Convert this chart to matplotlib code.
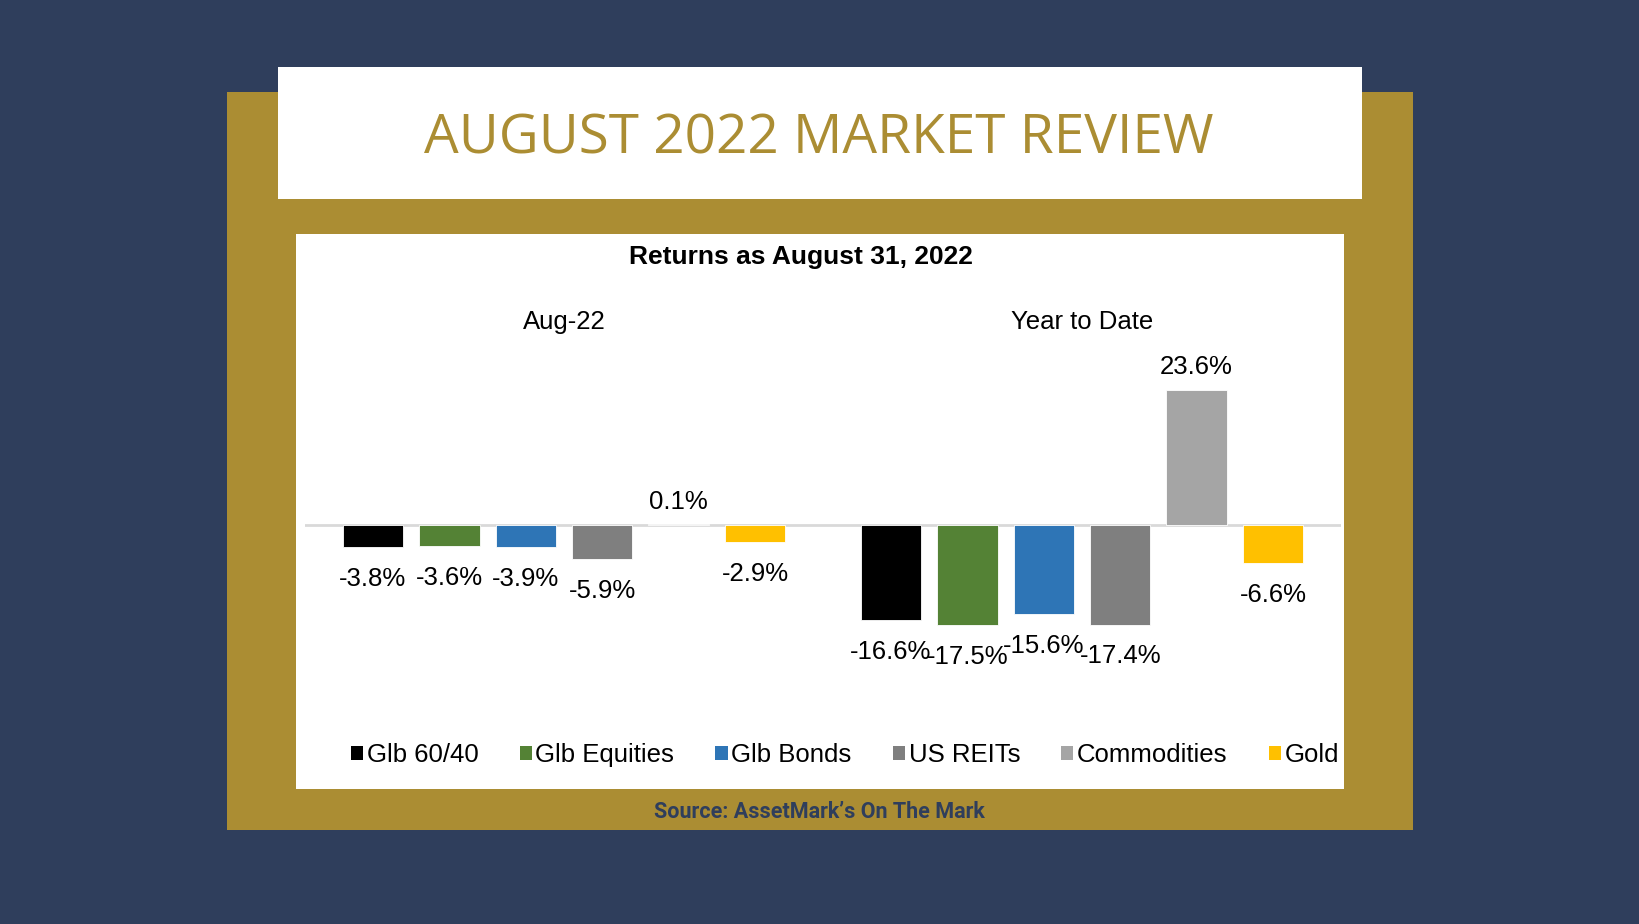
import matplotlib.pyplot as plt
from matplotlib.patches import Rectangle, Patch

# ------------------------------
# DADOS
# ------------------------------
series = ["Glb 60/40", "Glb Equities", "Glb Bonds", "US REITs", "Commodities", "Gold"]
periods = ["Aug-22", "Year to Date"]
aug_22 = [-3.8, -3.6, -3.9, -5.9, 0.1, -2.9]
ytd = [-16.6, -17.5, -15.6, -17.4, 23.6, -6.6]
colors = ["#000000", "#548235", "#2E75B6", "#7F7F7F", "#A5A5A5", "#FFC000"]

NAVY = "#2F3E5C"
GOLD = "#AB8D33"
W, H = 1640, 924


def fx(px):
    return px / W


def fy(py):
    return 1 - py / H


def box(x0, y0, x1, y1, color):
    fig.add_artist(Rectangle((fx(x0), fy(y1)), fx(x1) - fx(x0), fy(y0) - fy(y1),
                             transform=fig.transFigure, facecolor=color,
                             edgecolor="none", zorder=0))


fig = plt.figure(figsize=(W / 100, H / 100), dpi=100)
fig.patch.set_facecolor(NAVY)

# moldura dourada, caixa do titulo e painel do grafico
box(227, 92, 1413, 830, GOLD)
box(278, 67, 1362, 199, "white")
box(296, 234, 1344, 789, "white")

fig.text(fx(819), fy(139), "AUGUST 2022 MARKET REVIEW", ha="center", va="center",
         fontsize=39.5, color=GOLD, family="Open Sans")
fig.text(fx(801), fy(257), "Returns as August 31, 2022", ha="center", va="center",
         fontsize=19, fontweight="bold", family="Liberation Sans", color="black")
fig.text(fx(819), fy(812), "Source: AssetMark\u2019s On The Mark", ha="center", va="center",
         fontsize=15.5, fontweight="bold", family="Roboto", color=NAVY)

# ------------------------------
# GRAFICO DE BARRAS
# ------------------------------
px_per_pct = 5.72
zero_y = 525
top_y, bot_y = 290, 715
ax = fig.add_axes([fx(305), fy(bot_y), fx(1341) - fx(305), fy(top_y) - fy(bot_y)])
ax.set_facecolor("none")
ax.set_xlim(-0.5, 1.5)
ax.set_ylim(-(bot_y - zero_y) / px_per_pct, (zero_y - top_y) / px_per_pct)
ax.axis("off")

pitch = 76.4 / 518
width = 60.5 / 518
values = [aug_22, ytd]
for g, vals in enumerate(values):
    for i, v in enumerate(vals):
        x = g + (i - 2.5) * pitch
        ax.bar(x, v, width=width, color=colors[i], edgecolor="white", linewidth=0.6, zorder=2)
        off = 16.5 if v > 0 else -23
        ax.annotate(f"{v:.1f}%", (x, v), xytext=(0, off), textcoords="offset points",
                    ha="center", va="center", fontsize=18.5, family="Liberation Sans",
                    color="black", zorder=3)

ax.axhline(0, color="#D9D9D9", lw=2, zorder=1)

for g, name in enumerate(periods):
    ax.annotate(name, (g, fy(322)), xycoords=("data", "figure fraction"),
                ha="center", va="center", fontsize=18.5, family="Liberation Sans",
                color="black")

handles = [Patch(facecolor=c, edgecolor="none") for c in colors]
fig.legend(handles, series, loc="center", bbox_to_anchor=(fx(845), fy(755)), ncol=6,
           frameon=False, handlelength=0.47, handleheight=0.47, handletextpad=0.15,
           columnspacing=1.6, borderpad=0,
           prop={"family": "Liberation Sans", "size": 18.5})

fig.savefig("out.png", dpi=100, facecolor=NAVY)
